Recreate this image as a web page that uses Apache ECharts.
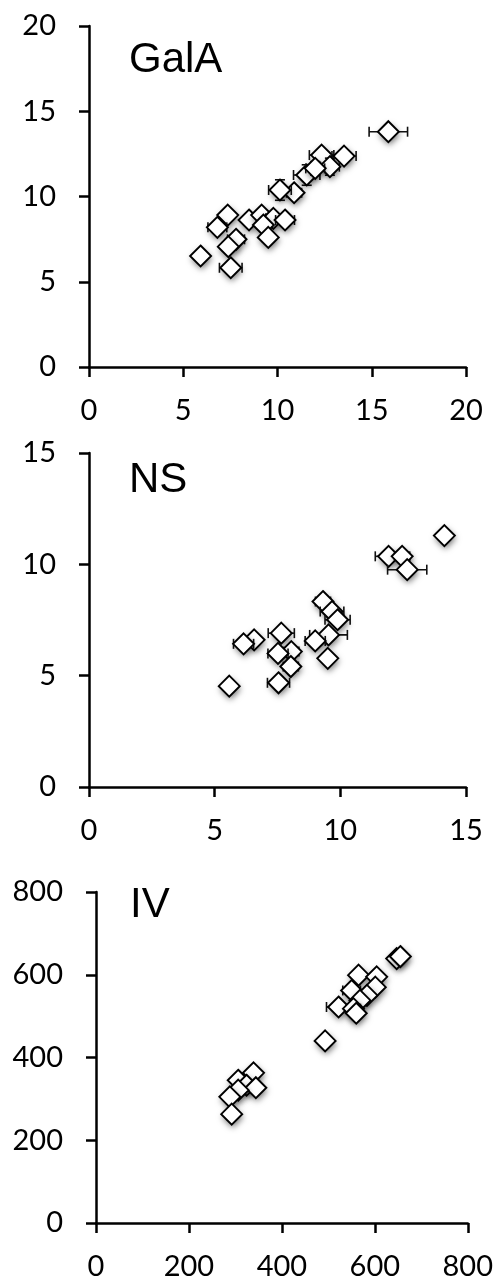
<!DOCTYPE html>
<html>
<head>
<meta charset="utf-8">
<script src="https://cdn.jsdelivr.net/npm/echarts@6/dist/echarts.min.js"></script>
<style>
html,body{margin:0;padding:0;background:#fff;}
#chart{width:496px;height:1281px;}
</style>
</head>
<body>
<div id="chart"></div>
<script>
// ---- Panel titles ----
var panelTitles = ['GalA', 'NS', 'IV'];

// ---- Axis ranges / ticks ----
var axisMax = [20, 15, 800];
var axisInterval = [5, 5, 200];

// ---- GalA ----
var galaX = [15.88, 12.34, 13.53, 12.78, 11.55, 12.0, 10.88, 10.13, 7.36, 6.81, 8.49, 9.16, 9.78, 10.4, 9.25, 9.51, 7.8, 7.39, 5.92, 7.52];
var galaY = [13.8, 12.43, 12.37, 11.75, 11.26, 11.65, 10.22, 10.38, 8.91, 8.19, 8.62, 8.91, 8.72, 8.62, 8.33, 7.6, 7.49, 7.06, 6.51, 5.82];
var galaXErr = [1.02, 0.65, 0.64, 0.5, 0.7, 0.5, 0.4, 0.6, 0.3, 0.5, 0.3, 0.3, 0.4, 0.5, 0.3, 0.3, 0.45, 0.3, 0.1, 0.6];
var galaYErr = [0.1, 0.3, 0.3, 0.5, 0.6, 0.4, 0.2, 0.6, 0.2, 0.2, 0.2, 0.2, 0.2, 0.3, 0.2, 0.2, 0.3, 0.2, 0.1, 0.2];

// ---- NS ----
var nsX = [14.14, 11.92, 12.46, 12.66, 9.31, 9.67, 9.89, 9.53, 9.0, 9.5, 7.65, 8.05, 7.52, 8.03, 7.54, 6.57, 6.15, 5.58];
var nsY = [11.29, 10.36, 10.36, 9.76, 8.33, 7.88, 7.51, 6.83, 6.56, 5.78, 6.91, 6.08, 6.0, 5.41, 4.68, 6.61, 6.43, 4.53];
var nsXErr = [0.1, 0.53, 0.3, 0.78, 0.3, 0.47, 0.5, 0.75, 0.4, 0.2, 0.52, 0.3, 0.4, 0.3, 0.44, 0.2, 0.4, 0.1];
var nsYErr = [0.1, 0.2, 0.2, 0.2, 0.2, 0.2, 0.2, 0.2, 0.2, 0.2, 0.2, 0.2, 0.2, 0.2, 0.2, 0.2, 0.2, 0.1];

// ---- IV ----
var ivX = [647, 655, 565, 604, 601, 550, 583, 568, 522, 554, 560, 493, 339, 306, 324, 344, 306, 288, 292];
var ivY = [639, 644, 599, 595, 570, 562, 550, 538, 522, 518, 507, 440, 363, 345, 333, 327, 321, 305, 263];
var ivXErr = [10, 10, 10, 10, 10, 19, 10, 10, 26, 15, 10, 5, 10, 10, 10, 10, 10, 10, 5];
var ivYErr = [10, 10, 10, 10, 10, 10, 10, 10, 10, 10, 10, 5, 10, 10, 10, 10, 10, 10, 5];

var panels = [
  {x: galaX, y: galaY, xe: galaXErr, ye: galaYErr},
  {x: nsX, y: nsY, xe: nsXErr, ye: nsYErr},
  {x: ivX, y: ivY, xe: ivXErr, ye: ivYErr}
];

var grids = [
  {left: 89, top: 26, width: 377, height: 341},
  {left: 89, top: 453, width: 377, height: 334},
  {left: 96, top: 892, width: 372, height: 331}
];

var titlePos = [[129, 39], [129, 459], [130, 884]];

var labelFont = {fontFamily: 'Lato', fontSize: 29, color: '#000'};

function axisCommon(i) {
  return {
    type: 'value', min: 0, max: axisMax[i], interval: axisInterval[i], gridIndex: i,
    axisLine: {show: true, onZero: false, lineStyle: {color: '#000', width: 2.5}},
    axisTick: {show: true, inside: false, length: 10, lineStyle: {color: '#000', width: 2.5}},
    splitLine: {show: false},
    axisLabel: Object.assign({}, labelFont)
  };
}

var HALF = 10.5; // half diagonal of a diamond marker, px

function renderPoint(params, api) {
  var x = api.value(0), y = api.value(1), ex = api.value(2), ey = api.value(3);
  var c = api.coord([x, y]);
  var l = api.coord([x - ex, y]), r = api.coord([x + ex, y]);
  var t = api.coord([x, y + ey]), b = api.coord([x, y - ey]);
  var cap = 5;
  var st = {stroke: '#111', lineWidth: 1.6, fill: null};
  var pts = [[c[0], c[1] - HALF], [c[0] + HALF, c[1]], [c[0], c[1] + HALF], [c[0] - HALF, c[1]]];
  return {
    type: 'group', children: [
      {type: 'line', shape: {x1: l[0], y1: c[1], x2: r[0], y2: c[1]}, style: st},
      {type: 'line', shape: {x1: l[0], y1: c[1] - cap, x2: l[0], y2: c[1] + cap}, style: st},
      {type: 'line', shape: {x1: r[0], y1: c[1] - cap, x2: r[0], y2: c[1] + cap}, style: st},
      {type: 'line', shape: {x1: c[0], y1: t[1], x2: c[0], y2: b[1]}, style: st},
      {type: 'line', shape: {x1: c[0] - cap, y1: t[1], x2: c[0] + cap, y2: t[1]}, style: st},
      {type: 'line', shape: {x1: c[0] - cap, y1: b[1], x2: c[0] + cap, y2: b[1]}, style: st},
      {type: 'polygon', shape: {points: pts},
        style: {fill: '#fff', stroke: null, shadowBlur: 6, shadowColor: 'rgba(0,0,0,0.55)', shadowOffsetX: 1, shadowOffsetY: 3}},
      {type: 'polygon', shape: {points: pts},
        style: {fill: null, stroke: '#000', lineWidth: 1.9}}
    ]
  };
}

var xAxes = [], yAxes = [], series = [], graphics = [];
panels.forEach(function (p, i) {
  var xa = axisCommon(i); xa.axisLabel.margin = 29;
  var ya = axisCommon(i); ya.axisLabel.margin = 33;
  xAxes.push(xa); yAxes.push(ya);
  var data = p.x.map(function (v, k) { return [v, p.y[k], p.xe[k], p.ye[k]]; });
  series.push({
    type: 'custom', xAxisIndex: i, yAxisIndex: i, silent: true,
    clip: false,
    encode: {x: 0, y: 1},
    data: data,
    renderItem: renderPoint
  });
  graphics.push({
    type: 'text', left: titlePos[i][0], top: titlePos[i][1],
    style: {text: panelTitles[i], font: '42px "Liberation Sans", Arial, sans-serif', fill: '#000'}
  });
});

var chart = echarts.init(document.getElementById('chart'), null, {renderer: 'canvas'});
chart.setOption({
  animation: false,
  backgroundColor: '#fff',
  grid: grids,
  xAxis: xAxes,
  yAxis: yAxes,
  series: series,
  graphic: graphics
});
</script>
</body>
</html>
